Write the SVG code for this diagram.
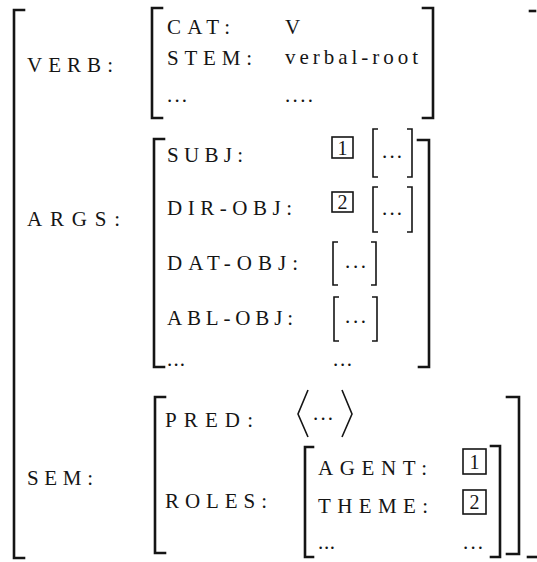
<svg xmlns="http://www.w3.org/2000/svg" width="537" height="562" viewBox="0 0 537 562">
<style>
.t{font-family:"Liberation Serif","DejaVu Serif",serif;font-size:21px;fill:#151515}
.n{font-family:"Liberation Serif","DejaVu Serif",serif;font-size:20px;fill:#151515;text-anchor:middle}
.b{fill:none;stroke:#151515;stroke-width:2.6;stroke-linecap:square}
.s{fill:none;stroke:#151515;stroke-width:1.6}
.bx{fill:none;stroke:#151515;stroke-width:1.6}
</style>
<rect width="537" height="562" fill="#ffffff"/>
<g id="outer">
<path class="b" d="M24,10 H14 V558 H24"/>
<path class="b" d="M530,11 H535"/>
<path class="b" d="M528,557 H537"/>
</g>
<g id="verb">
<text class="t" x="27" y="72" textLength="86" lengthAdjust="spacing">VERB:</text>
<path class="b" d="M162,8 H152 V118 H162"/>
<path class="b" d="M423,8 H433 V118 H423"/>
<text class="t" x="167" y="34" textLength="63" lengthAdjust="spacing">CAT:</text>
<text class="t" x="285" y="34">V</text>
<text class="t" x="167" y="65" textLength="85" lengthAdjust="spacing">STEM:</text>
<text class="t" x="285" y="64" textLength="133" lengthAdjust="spacing">verbal-root</text>
<text class="t" x="167" y="102" textLength="20" lengthAdjust="spacing">...</text>
<text class="t" x="285" y="102" textLength="28" lengthAdjust="spacing">....</text>
</g>
<g id="args">
<text class="t" x="27" y="226" textLength="93" lengthAdjust="spacing">ARGS:</text>
<path class="b" d="M164,139 H154 V367 H164"/>
<path class="b" d="M418,140 H429 V367 H419"/>
<text class="t" x="167" y="162" textLength="76" lengthAdjust="spacing">SUBJ:</text>
<text class="t" x="167" y="215" textLength="125" lengthAdjust="spacing">DIR-OBJ:</text>
<text class="t" x="167" y="270" textLength="131" lengthAdjust="spacing">DAT-OBJ:</text>
<text class="t" x="167" y="325" textLength="126" lengthAdjust="spacing">ABL-OBJ:</text>
<text class="t" x="167" y="366" textLength="18" lengthAdjust="spacing">...</text>
<text class="t" x="333" y="366" textLength="19" lengthAdjust="spacing">...</text>
<rect class="bx" x="332" y="137" width="21" height="21"/>
<text class="n" x="342.5" y="155">1</text>
<rect class="bx" x="332" y="192" width="21" height="20"/>
<text class="n" x="342.5" y="209">2</text>
<path class="s" d="M378,129 H373 V177 H378"/>
<path class="s" d="M407,129 H412 V177 H407"/>
<text class="t" x="382" y="158" textLength="20" lengthAdjust="spacing">...</text>
<path class="s" d="M378,187 H373 V232 H378"/>
<path class="s" d="M407,187 H412 V232 H407"/>
<text class="t" x="382" y="215" textLength="20" lengthAdjust="spacing">...</text>
<path class="s" d="M338,242 H333 V285 H338"/>
<path class="s" d="M371,242 H376 V285 H371"/>
<text class="t" x="345" y="268" textLength="21" lengthAdjust="spacing">...</text>
<path class="s" d="M339,297 H334 V341 H339"/>
<path class="s" d="M372,297 H377 V341 H372"/>
<text class="t" x="345" y="323" textLength="21" lengthAdjust="spacing">...</text>
</g>
<g id="sem">
<text class="t" x="27" y="485" textLength="66" lengthAdjust="spacing">SEM:</text>
<path class="b" d="M165,397 H155 V553 H165"/>
<path class="b" d="M507,397 H519 V554 H507"/>
<text class="t" x="165" y="427" textLength="88" lengthAdjust="spacing">PRED:</text>
<path class="s" d="M308,390 L298,414 L308,437"/>
<path class="s" d="M342,390 L352,414 L342,437"/>
<text class="t" x="313" y="420" textLength="20" lengthAdjust="spacing">...</text>
<text class="t" x="165" y="508" textLength="102" lengthAdjust="spacing">ROLES:</text>
</g>
<g id="roles">
<path class="b" d="M313,447 H305 V557 H313"/>
<path class="b" d="M491,446 H500 V557 H491"/>
<text class="t" x="318" y="475" textLength="109" lengthAdjust="spacing">AGENT:</text>
<text class="t" x="318" y="513" textLength="110" lengthAdjust="spacing">THEME:</text>
<text class="t" x="318" y="549" textLength="17" lengthAdjust="spacing">...</text>
<text class="t" x="463" y="549" textLength="20" lengthAdjust="spacing">...</text>
<rect class="bx" x="463" y="449" width="23" height="25"/>
<text class="n" x="474.5" y="469">1</text>
<rect class="bx" x="463" y="490" width="23" height="24"/>
<text class="n" x="474.5" y="509">2</text>
</g>
</svg>
